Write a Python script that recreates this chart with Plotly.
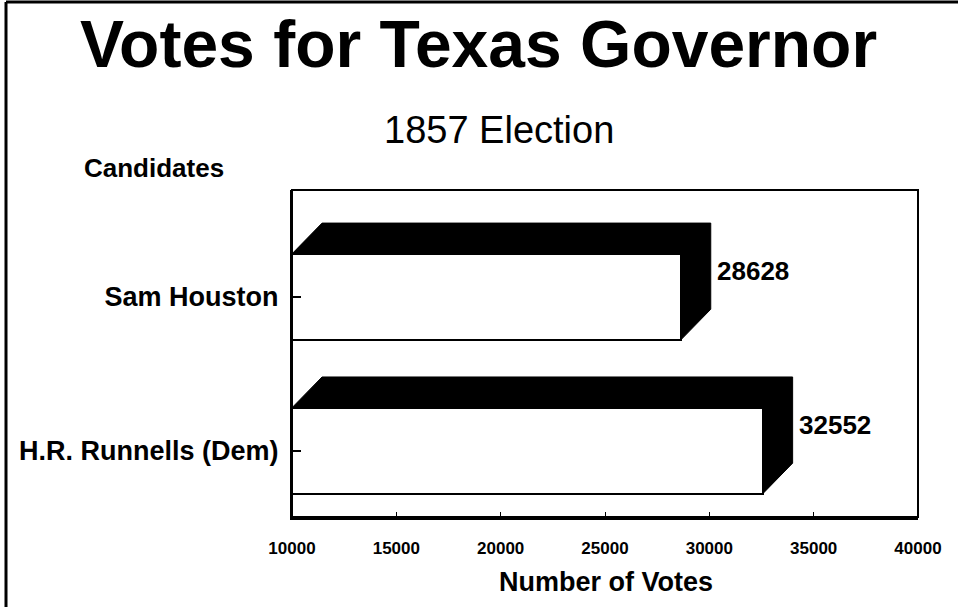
import plotly.graph_objects as go

# Data
candidates = ["H.R. Runnells (Dem)", "Sam Houston"]
votes = [32552, 28628]
x_ticks = [10000, 15000, 20000, 25000, 30000, 35000, 40000]

# Layout geometry (pixels)
W, H = 958, 607
L, R, T, B = 292, 918, 190, 517
XMIN, XMAX = 10000, 40000
YMIN, YMAX = -0.43, 1.695

# Bar styling: half height of front face and 3-D depth offsets
HALF = 0.28
DX = 1440
DY = 0.2

FONT = "Liberation Sans, Arial, sans-serif"


def px_x(px):
    return (px - L) / (R - L)


def px_y(py):
    return (B - py) / (B - T)


fig = go.Figure()

pos = list(range(len(candidates)))

# Front faces of the bars
fig.add_trace(go.Bar(
    y=pos, x=votes, base=0, orientation="h", width=2 * HALF,
    marker=dict(color="white", line=dict(color="black", width=2)),
    hoverinfo="skip", showlegend=False,
))

# Top and side faces drawn as one filled outline per bar
for c, v in zip(pos, votes):
    xs = [XMIN, XMIN + DX, v + DX, v + DX, v, v, XMIN]
    ys = [c + HALF, c + HALF + DY, c + HALF + DY, c - HALF + DY, c - HALF, c + HALF, c + HALF]
    fig.add_trace(go.Scatter(
        x=xs, y=ys, mode="lines", fill="toself", fillcolor="black",
        line=dict(color="black", width=1), hoverinfo="skip", showlegend=False,
    ))

annotations = []
for c, v in zip(pos, votes):
    annotations.append(dict(
        x=v + DX, y=c + 0.17, xref="x", yref="y", text=f"<b>{v}</b>",
        showarrow=False, xanchor="left", yanchor="middle", xshift=4,
        font=dict(family=FONT, size=26, color="black"),
    ))

annotations += [
    dict(x=px_x(478), y=px_y(44), xref="paper", yref="paper",
         text="<b>Votes for Texas Governor</b>", showarrow=False,
         xanchor="center", yanchor="middle",
         font=dict(family=FONT, size=66, color="black")),
    dict(x=px_x(499), y=px_y(130), xref="paper", yref="paper",
         text="1857 Election", showarrow=False,
         xanchor="center", yanchor="middle",
         font=dict(family=FONT, size=38, color="black")),
    dict(x=px_x(82), y=px_y(168), xref="paper", yref="paper",
         text="<b>Candidates</b>", showarrow=False,
         xanchor="left", yanchor="middle",
         font=dict(family=FONT, size=26, color="black")),
    dict(x=px_x(606), y=px_y(582), xref="paper", yref="paper",
         text="<b>Number of Votes</b>", showarrow=False,
         xanchor="center", yanchor="middle",
         font=dict(family=FONT, size=27, color="black")),
]

shapes = [
    # plot frame (top, right, left)
    dict(type="rect", xref="paper", yref="paper", x0=0, x1=1, y0=0, y1=1,
         line=dict(color="black", width=2), fillcolor="rgba(0,0,0,0)", layer="above"),
    # outer page border: top and left edges
    dict(type="line", xref="paper", yref="paper",
         x0=px_x(6), x1=px_x(W + 5), y0=px_y(2), y1=px_y(2),
         line=dict(color="black", width=3)),
    dict(type="line", xref="paper", yref="paper",
         x0=px_x(6), x1=px_x(6), y0=px_y(2), y1=px_y(H + 5),
         line=dict(color="black", width=3)),
]

fig.update_layout(
    width=W, height=H,
    margin=dict(l=L, r=W - R, t=T, b=H - B, pad=0),
    paper_bgcolor="white", plot_bgcolor="white",
    bargap=0,
    annotations=annotations, shapes=shapes,
    xaxis=dict(
        range=[XMIN, XMAX], tickvals=x_ticks, ticktext=[str(t) for t in x_ticks],
        showgrid=False, zeroline=False, showline=True, linecolor="black", linewidth=3,
        ticks="inside", ticklen=5, tickwidth=1, tickcolor="black",
        ticklabelstandoff=14,
        tickfont=dict(family=FONT, size=17, color="black", weight="bold"),
    ),
    yaxis=dict(
        range=[YMIN, YMAX], tickvals=pos, ticktext=candidates,
        showgrid=False, zeroline=False, showline=True, linecolor="black", linewidth=2,
        ticks="inside", ticklen=9, tickwidth=1.5, tickcolor="black",
        ticklabelstandoff=6,
        tickfont=dict(family=FONT, size=27, color="black", weight="bold"),
    ),
)

fig.write_html("out.html")
